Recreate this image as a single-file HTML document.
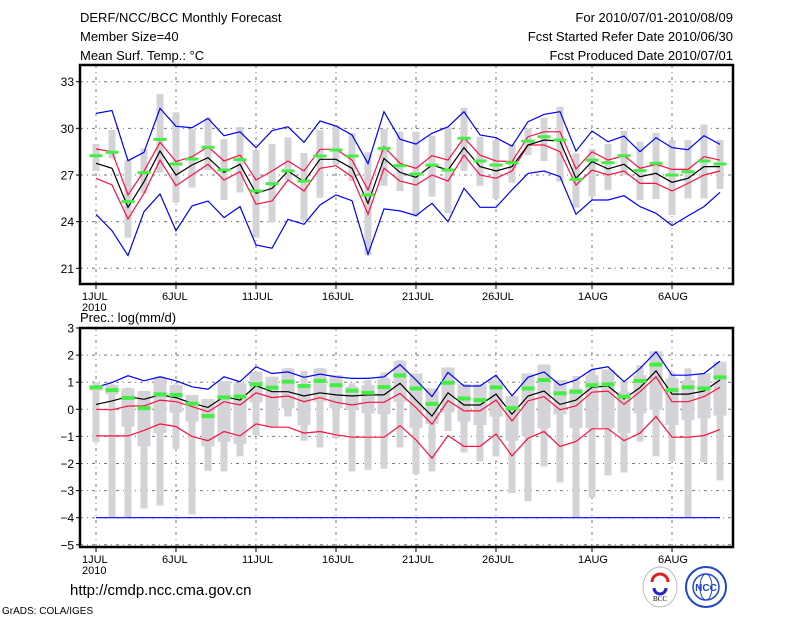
<!DOCTYPE html>
<html><head><meta charset="utf-8">
<style>
html,body{margin:0;padding:0;background:#fff;}
body{width:800px;height:618px;overflow:hidden;position:relative;font-family:"Liberation Sans",sans-serif;}
svg{position:absolute;left:0;top:0;}
</style></head>
<body>
<svg id="chart" width="800" height="618" viewBox="0 0 800 618" xmlns="http://www.w3.org/2000/svg">
<g font-family="Liberation Sans, sans-serif" font-size="13" fill="#000">
<text x="80" y="22">DERF/NCC/BCC Monthly Forecast</text>
<text x="80" y="41">Member Size=40</text>
<text x="80" y="60">Mean Surf. Temp.: °C</text>
<text x="733" y="22" text-anchor="end">For 2010/07/01-2010/08/09</text>
<text x="733" y="41" text-anchor="end">Fcst Started Refer Date 2010/06/30</text>
<text x="733" y="60" text-anchor="end">Fcst Produced Date 2010/07/01</text>
<text x="80" y="322">Prec.: log(mm/d)</text>
<text x="70" y="595" font-size="15">http://cmdp.ncc.cma.gov.cn</text>
<text x="2" y="614" font-size="10">GrADS: COLA/IGES</text>
</g>
<g>
<ellipse cx="660" cy="587" rx="17" ry="20" fill="#fff" stroke="#bbb"/>
<path d="M652 582 a8 8 0 1 1 16 0" fill="none" stroke="#d22" stroke-width="3"/>
<path d="M654 588 a6 6 0 1 0 12 0" fill="none" stroke="#22c" stroke-width="3"/>
<text x="660" y="601" font-size="7" text-anchor="middle" font-family="Liberation Serif, serif">BCC</text>
</g>
<g>
<circle cx="706" cy="587" r="20" fill="#fff" stroke="#24c" stroke-width="2"/>
<circle cx="706" cy="587" r="13" fill="none" stroke="#24c" stroke-width="1.5"/>
<ellipse cx="706" cy="587" rx="6" ry="13" fill="none" stroke="#24c"/>
<text x="706" y="591" font-size="10" font-weight="bold" text-anchor="middle" fill="#24c">NCC</text>
</g>
<g id="top"></g>
<g id="bot"></g>
</svg>
<script>
// ---- shared
const dayTicks = [0,5,10,15,20,25,31,36];
const dayTickLabels = ["1JUL","6JUL","11JUL","16JUL","21JUL","26JUL","1AUG","6AUG"];
// ---- temperature panel data
const tTicks = [21,24,27,30,33];
const tMax = [30.96,31.15,27.92,28.46,31.28,30.13,30.04,30.64,29.53,29.78,28.76,29.85,30.1,29.1,30.47,30.15,29.57,27.73,31.07,29.3,28.99,29.68,30.1,31.07,29.57,29.4,28.86,30.43,30.9,31.07,28.54,29.83,29.14,29.5,28.5,29.4,28.76,28.63,29.53,28.97];
const tMin = [24.47,23.42,21.82,24.64,25.78,23.42,25.01,25.33,24.26,24.97,22.5,22.29,24.15,23.83,25.07,25.72,25.35,21.9,24.82,24.69,24.39,25.18,24.0,26.14,24.92,24.92,26.04,27.1,27.26,26.9,24.47,25.39,25.39,25.67,24.97,24.54,23.75,24.37,24.97,25.89];
const tRedHi = [28.67,28.5,25.72,27.26,29.1,27.86,28.18,28.82,27.9,28.28,26.68,27.26,27.9,27.26,28.65,28.65,27.96,26.04,28.82,27.75,27.43,28.24,27.96,29.4,28.28,27.9,27.86,29.46,29.78,29.78,27.39,28.5,27.96,28.24,27.43,27.69,27.36,27.36,28.18,27.96];
const tRedLo = [26.79,26.36,24.17,25.82,27.96,26.31,27.0,27.69,26.68,27.21,25.12,25.33,26.68,25.97,27.43,27.6,26.89,24.47,27.43,26.61,26.36,27.0,26.61,28.28,27.0,26.79,27.26,28.93,28.93,28.5,26.36,27.32,27.0,27.26,26.46,26.46,25.97,26.46,27.0,27.26];
const tMean = [27.75,27.43,24.92,26.57,28.54,27.0,27.64,28.11,27.17,27.69,25.82,26.14,27.26,26.57,28.01,28.01,27.43,25.18,28.07,27.17,26.85,27.64,27.32,28.76,27.54,27.26,27.54,28.93,29.25,29.18,26.79,27.86,27.39,27.69,26.89,27.11,26.53,26.79,27.54,27.54];
const tBarTop = [28.99,29.89,27.96,28.71,32.2,31.03,29.96,30.68,29.31,30.08,28.61,28.99,29.42,28.41,29.89,30.21,29.68,28.46,29.96,29.78,29.78,29.53,30.06,31.33,29.46,29.25,28.97,30.0,30.68,31.39,28.39,28.67,28.99,29.83,29.14,29.72,29.25,29.25,30.25,29.25];
const tBarBot = [27.26,28.07,22.97,25.82,27.15,25.22,26.19,27.32,25.39,25.87,22.97,23.94,26.68,24.07,25.54,27.64,26.61,21.86,26.31,25.97,24.32,25.61,24.54,27.26,26.31,25.46,26.51,28.28,27.9,26.57,24.9,25.61,26.04,27.0,25.39,25.46,24.43,25.5,25.5,26.1];
const tObs = [28.24,28.46,25.29,27.15,29.29,27.71,28.03,28.78,27.32,27.99,25.97,26.44,27.26,26.61,28.22,28.61,28.22,25.72,28.71,27.6,27.06,27.64,27.32,29.36,27.9,27.64,27.79,29.18,29.46,29.25,26.72,27.96,27.79,28.24,27.28,27.75,27.0,27.21,27.9,27.71];
// ---- precipitation panel data
const pTicks = [-5,-4,-3,-2,-1,0,1,2,3];
const pMax = [0.81,0.99,1.24,1.05,1.2,1.05,0.83,0.74,1.2,1.02,1.57,1.32,1.38,1.18,1.3,1.2,1.14,1.14,1.2,1.65,1.08,0.47,1.36,0.86,0.86,1.26,0.5,1.18,1.38,0.89,1.08,1.47,1.57,1.02,1.51,2.12,1.26,1.26,1.32,1.78];
const pMin = [-4,-4,-4,-4,-4,-4,-4,-4,-4,-4,-4,-4,-4,-4,-4,-4,-4,-4,-4,-4,-4,-4,-4,-4,-4,-4,-4,-4,-4,-4,-4,-4,-4,-4,-4,-4,-4,-4,-4,-4];
const pMean = [0.18,0.31,0.47,0.37,0.53,0.43,0.22,0.07,0.47,0.34,0.87,0.65,0.65,0.49,0.61,0.53,0.49,0.53,0.53,0.96,0.34,-0.25,0.61,0.16,0.16,0.56,-0.18,0.49,0.67,0.18,0.34,0.81,0.86,0.38,0.8,1.42,0.56,0.56,0.67,1.08];
const pRedHi = [0,-0.02,0.12,0.12,0.34,0.28,0.1,-0.09,0.28,0.16,0.61,0.43,0.49,0.28,0.43,0.26,0.16,0.26,0.26,0.59,0.06,-0.55,0.32,-0.06,-0.06,0.34,-0.43,0.31,0.47,-0.02,0.13,0.63,0.67,0.18,0.65,1.2,0.28,0.28,0.47,0.81];
const pRedLo = [-0.98,-0.98,-0.98,-0.78,-0.54,-0.64,-1.0,-1.16,-0.82,-0.98,-0.54,-0.66,-0.66,-0.88,-0.82,-0.94,-1.03,-1.03,-1.03,-0.6,-1.13,-1.8,-0.97,-1.37,-1.37,-0.91,-1.72,-1.07,-0.82,-1.37,-1.19,-0.72,-0.72,-1.16,-0.88,-0.27,-1.03,-1.03,-0.97,-0.74];
const pWhiskHi = [0.99,0.92,0.8,0.67,1.2,0.92,0.53,0.38,1.04,0.98,1.38,1.2,1.53,1.41,1.53,1.26,0.96,1.08,1.36,1.81,1.32,0.77,1.54,0.93,0.92,1.1,0.49,1.32,1.65,1.08,1.23,1.47,1.47,1.02,1.63,2.14,1.35,1.51,1.32,1.75];
const pWhiskLo = [-1.21,-3.98,-3.98,-3.66,-3.55,-1.46,-3.88,-2.27,-2.29,-1.74,-0.98,-0.67,-0.27,-1.16,-1.41,-1.07,-2.29,-2.23,-2.19,-1.41,-2.39,-2.29,-0.8,-1.59,-1.92,-1.74,-3.09,-3.39,-2.11,-2.7,-3.98,-3.25,-2.44,-2.33,-1.19,-1.74,-1.92,-3.98,-1.96,-2.62];
const pBoxHi = [0.89,0.89,0.77,0.67,1.14,0.89,0.53,0.38,1.04,0.96,1.38,1.2,1.5,0.92,1.5,1.26,0.83,0.89,1.14,1.78,1.32,0.77,1.54,0.93,0.92,1.1,0.49,1.32,1.65,1.08,0.77,1.26,1.47,0.65,1.26,2.14,1.14,1.08,1.32,1.75];
const pBoxLo = [0.69,0.55,-0.64,-1.37,-0.88,-0.12,-0.45,-1.37,-1.19,-1.27,0.25,-0.67,0.04,-0.58,0.28,0.04,-0.02,-0.15,-0.18,0.28,-0.7,-0.54,-0.11,-0.45,-0.58,-0.27,-1.16,-0.98,-0.7,-0.18,-0.7,-0.7,-0.7,-0.88,-0.15,-0.02,-0.58,-0.39,-0.33,-0.23];
const pObs = [0.81,0.71,0.42,0.04,0.55,0.53,0.21,-0.25,0.44,0.47,0.92,0.8,1.02,0.86,1.05,0.89,0.69,0.61,0.82,1.25,0.77,0.2,0.98,0.4,0.34,0.81,0.04,0.77,1.08,0.59,0.65,0.89,0.92,0.47,1.05,1.65,0.71,0.81,0.77,1.18];

const NS = "http://www.w3.org/2000/svg";
const X0 = 80, X1 = 733;
function xDay(d){ return 96 + 16*d; }
function mk(parent, tag, attrs){
  const e = document.createElementNS(NS, tag);
  for (const k in attrs) e.setAttribute(k, attrs[k]);
  parent.appendChild(e);
  return e;
}
function linePath(vals, yf){
  return vals.map((v,i)=>(i?"L":"M")+xDay(i)+" "+yf(v).toFixed(1)).join(" ");
}

function drawPanel(g, top, bot, yf, yTicks, name){
  // grid
  yTicks.forEach(v=>{
    const y = yf(v);
    if (y > top+1 && y < bot-1) {
      const l = mk(g,"line",{x1:X0,x2:X1,y1:y,y2:y,stroke:"#777","stroke-width":1,"stroke-dasharray":"3,4,1,4"});
      
      
    }
    const t = mk(g,"line",{x1:X0-4,x2:X0,y1:y,y2:y,stroke:"#000"});
    
    
    const tx = mk(g,"text",{x:X0-6,y:y+4.5,"text-anchor":"end","font-size":12,"font-family":"Liberation Sans, sans-serif"});
    tx.textContent = (v<0?"\u2212"+(-v):String(v));
    
    
  });
  dayTicks.forEach((d,i)=>{
    const x = xDay(d);
    const l = mk(g,"line",{x1:x,x2:x,y1:top,y2:bot,stroke:"#777","stroke-width":1,"stroke-dasharray":"3,4,1,4"});
    
    
    const t = mk(g,"line",{x1:x,x2:x,y1:bot,y2:bot+5,stroke:"#000"});
    
    
    const tx = mk(g,"text",{x:x-14,y:bot+16,"font-size":11,"font-family":"Liberation Sans, sans-serif"});
    tx.textContent = dayTickLabels[i];
    
    
  });
  const yr = mk(g,"text",{x:xDay(0)-14,y:bot+27,"font-size":11,"font-family":"Liberation Sans, sans-serif"});
  yr.textContent = "2010";
  
  
}
function drawFrame(g, top, bot, name){
  const f = mk(g,"rect",{x:X0,y:top,width:X1-X0,height:bot-top,fill:"none",stroke:"#000","stroke-width":2.5});
  
  
}
function series(g, vals, yf, color, name){
  const p = mk(g,"path",{d:linePath(vals,yf),fill:"none",stroke:color,"stroke-width":1.2});
  
  
}

// ---- Top panel
const tTop = 65, tBot = 284;
function yT(v){ return 175 - 15.55*(v-27); }
const gT = document.getElementById("top");
drawPanel(gT, tTop, tBot, yT, tTicks, "temp");
tBarTop.forEach((v,i)=>{
  const r = mk(gT,"rect",{x:xDay(i)-3.5,y:yT(v),width:7,height:yT(tBarBot[i])-yT(v),fill:"#d3d3d8"});
  
  
});
series(gT, tMax, yT, "#0000ff", "temp-max-line");
series(gT, tMin, yT, "#0000ff", "temp-min-line");
series(gT, tRedHi, yT, "#ff1040", "temp-upper-line");
series(gT, tRedLo, yT, "#ff1040", "temp-lower-line");
series(gT, tMean, yT, "#000000", "temp-mean-line");
tObs.forEach((v,i)=>{
  const r = mk(gT,"rect",{x:xDay(i)-6.5,y:yT(v)-1.5,width:13,height:3,fill:"#44ee44"});
  
  
});
drawFrame(gT, tTop, tBot, "temp");

// ---- Bottom panel
const pTop = 328, pBot = 547;
function yP(v){ return 409.3 - 27.1*v; }
const gP = document.getElementById("bot");
drawPanel(gP, pTop, pBot, yP, pTicks, "precip");
pWhiskHi.forEach((v,i)=>{
  const r = mk(gP,"rect",{x:xDay(i)-3.5,y:yP(v),width:7,height:yP(pWhiskLo[i])-yP(v),fill:"#d3d3d8"});
  
  
  const b = mk(gP,"rect",{x:xDay(i)-6.5,y:yP(pBoxHi[i]),width:13,height:yP(pBoxLo[i])-yP(pBoxHi[i]),fill:"#d3d3d8"});
  
  
});
series(gP, pMax, yP, "#0000ff", "precip-max-line");
series(gP, pMin, yP, "#0000ff", "precip-min-line");
series(gP, pRedHi, yP, "#ff1040", "precip-upper-line");
series(gP, pRedLo, yP, "#ff1040", "precip-lower-line");
series(gP, pMean, yP, "#000000", "precip-mean-line");
pObs.forEach((v,i)=>{
  const r = mk(gP,"rect",{x:xDay(i)-6.5,y:yP(v)-2,width:13,height:4,fill:"#44ee44"});
  
  
});
drawFrame(gP, pTop, pBot, "precip");
</script>
</body></html>
